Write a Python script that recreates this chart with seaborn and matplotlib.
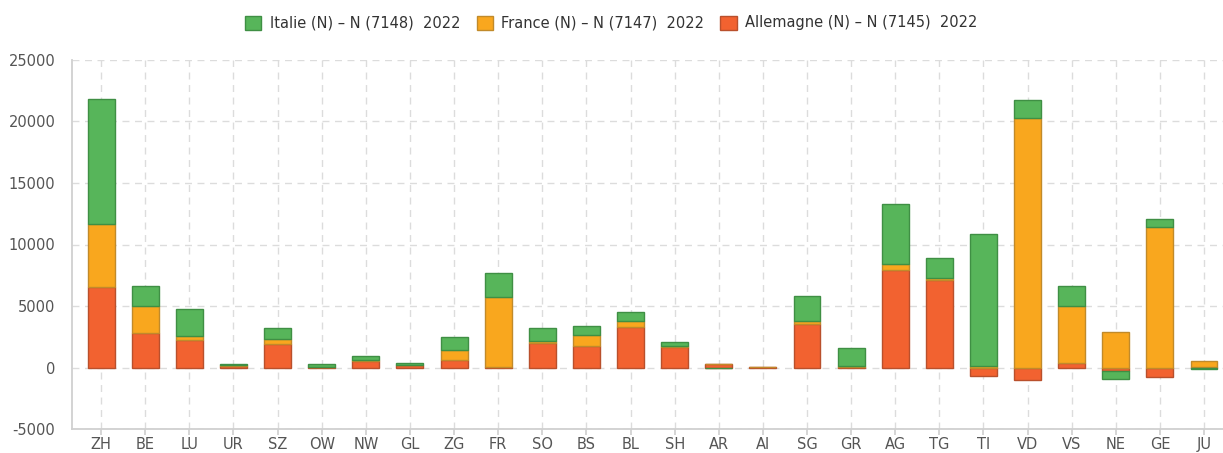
import numpy as np
import pandas as pd
import matplotlib
matplotlib.use("Agg")
import matplotlib.pyplot as plt
import seaborn as sns
from matplotlib.patches import Patch

cantons = ["ZH", "BE", "LU", "UR", "SZ", "OW", "NW", "GL", "ZG", "FR", "SO", "BS", "BL",
           "SH", "AR", "AI", "SG", "GR", "AG", "TG", "TI", "VD", "VS", "NE", "GE", "JU"]
allemagne = [6550, 2820, 2275, 150, 1950, 50, 540, 190, 625, 30, 1975, 1730, 3330,
             1680, 280, 20, 3500, 30, 7960, 7100, -700, -1030, 400, -250, -810, 30]
france = [5150, 2215, 325, 50, 380, 20, 30, 20, 780, 5700, 215, 950, 490,
          50, 30, 10, 250, 120, 490, 200, 150, 20300, 4630, 2900, 11450, 480]
italie = [10150, 1600, 2165, 100, 860, 200, 400, 150, 1055, 1950, 1060, 730, 730,
          325, -60, 0, 2030, 1420, 4870, 1630, 10700, 1450, 1600, -725, 650, -150]

series_names = ["Italie (N) \u2013 N (7148)  2022",
                "France (N) \u2013 N (7147)  2022",
                "Allemagne (N) \u2013 N (7145)  2022"]
yticks = [-5000, 0, 5000, 10000, 15000, 20000, 25000]

colors = {"Allemagne": "#f26230", "France": "#f9a71e", "Italie": "#57b55a"}
edges = {"Allemagne": "#b9502c", "France": "#c18a2a", "Italie": "#3f8f44"}

sns.set_theme(style="white")
plt.rcParams['font.family'] = ['DejaVu Sans']

fig = plt.figure(figsize=(12.23, 4.53), dpi=100)
ax = fig.add_axes([72 / 1223, (453 - 429) / 453, (1223 - 72) / 1223, (429 - 60) / 453])

n = len(cantons)
pos_bottom = np.zeros(n)
neg_bottom = np.zeros(n)
for name, vals in [("Allemagne", allemagne), ("France", france), ("Italie", italie)]:
    v = np.array(vals, dtype=float)
    pos = np.where(v > 0, v, 0.0)
    neg = np.where(v < 0, v, 0.0)
    df = pd.DataFrame({"canton": cantons, "pos": pos, "neg": neg})
    for col, bottom in (("pos", pos_bottom), ("neg", neg_bottom)):
        sns.barplot(data=df, x="canton", y=col, order=cantons, bottom=bottom,
                    color=colors[name], saturation=1, edgecolor=edges[name],
                    linewidth=1, width=0.61, ax=ax, zorder=3)
    pos_bottom = pos_bottom + pos
    neg_bottom = neg_bottom + neg

# hide empty (zero-height) segments so they do not leave an outline at zero
for p in ax.patches:
    if p.get_height() == 0:
        p.set_visible(False)

ax.set_ylim(-5000, 25000)
ax.set_xlim(-0.66, n - 1 + 0.43)
ax.set_yticks(yticks)
ax.set_yticklabels([str(t) for t in yticks])
ax.set_xlabel("")
ax.set_ylabel("")

ax.grid(True, axis="both", color="#dcdcdc", linestyle=(0, (5, 4)), linewidth=1, zorder=0)
ax.set_axisbelow(True)
for s in ["top", "right"]:
    ax.spines[s].set_visible(False)
ax.spines["left"].set_color("#d0d0d0")
ax.spines["bottom"].set_color("#d0d0d0")
ax.spines["left"].set_linewidth(1.3)
ax.spines["bottom"].set_linewidth(1.3)
ax.tick_params(axis="y", length=0, labelsize=10.5, labelcolor="#555555", pad=12)
ax.tick_params(axis="x", length=4, color="#d0d0d0", direction="out", bottom=True,
               labelsize=10.5, labelcolor="#555555", pad=1.5)

handles = [Patch(facecolor=colors[k], edgecolor=edges[k], linewidth=1)
           for k in ["Italie", "France", "Allemagne"]]
fig.legend(handles, series_names, loc="center", bbox_to_anchor=(0.5, 1 - 23 / 453),
           ncol=3, frameon=False, fontsize=10.5, handlelength=1.1, handleheight=1.1,
           handletextpad=0.6, columnspacing=1.1, labelcolor="#333333")

fig.savefig("out.png", dpi=100)
